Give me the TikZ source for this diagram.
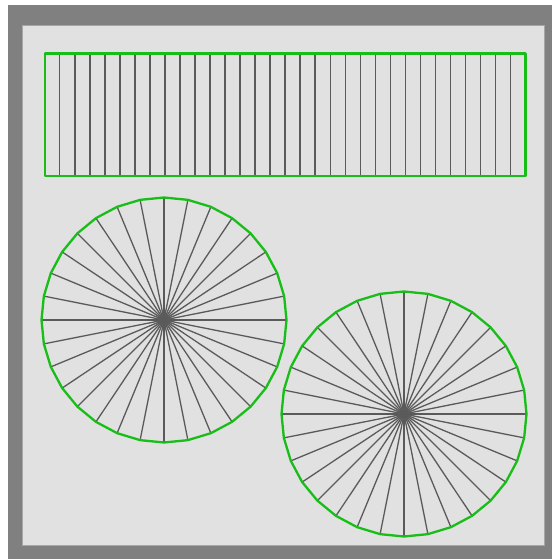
\documentclass[tikz,border=0pt]{standalone}
\definecolor{frame}{RGB}{128,128,128}
\definecolor{panel}{RGB}{225,225,225}
\definecolor{grn}{RGB}{24,190,24}
\definecolor{spoke}{RGB}{90,90,90}
\begin{document}
\begin{tikzpicture}[x=1pt,y=-1pt,
  outline/.style={draw=grn,line width=2.3pt,line join=round},
  stripe/.style={draw=spoke,line width=1.5pt},
  spokeline/.style={draw=spoke,line width=1.3pt}]
\useasboundingbox (0,0) rectangle (552,559);
\fill[white] (0,0) rectangle (552,559);
\fill[frame] (8,5) rectangle (552,559);
\filldraw[fill=panel,draw=black!35,line width=0.8pt] (22,25) rectangle (544,545);
\foreach \i in {1,...,31}
  \draw[stripe] ({44.7+\i*15.03},53.5) -- ({44.7+\i*15.03},176);
\draw[outline] (44.7,53.5) rectangle (525.5,176);
\foreach \cx/\cy in {164/320,404/414}{
  \foreach \k in {0,...,31}
    \draw[spokeline] (\cx,\cy) -- +({\k*11.25}:122.5);
  \draw[outline] (\cx,\cy) +(0:122.5)
    \foreach \k in {1,...,31}{ -- +({\k*11.25}:122.5) } -- cycle;
}
\end{tikzpicture}
\end{document}
